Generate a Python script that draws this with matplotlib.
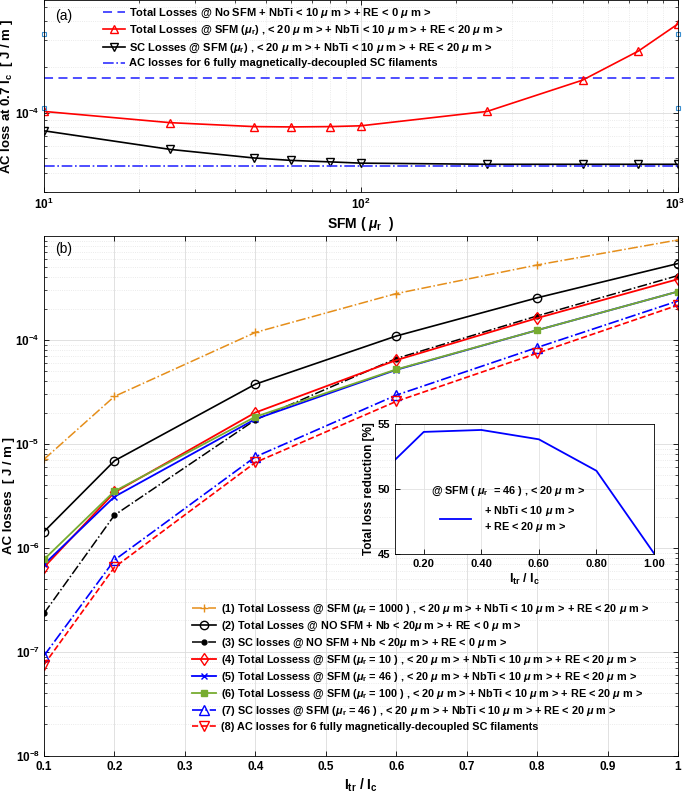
import matplotlib
matplotlib.use('Agg')
import matplotlib.pyplot as plt
import math
from matplotlib.ticker import LogLocator, FuncFormatter, NullFormatter, FixedLocator, FormatStrFormatter
from matplotlib.transforms import ScaledTranslation

plt.rcParams.update({
    'font.family': ['Liberation Sans', 'DejaVu Sans'],
    'font.weight': 'bold',
    'axes.labelweight': 'bold',
    'mathtext.fontset': 'custom',
    'mathtext.rm': 'Liberation Sans:bold',
    'mathtext.it': 'Liberation Sans:italic:bold',
    'mathtext.bf': 'Liberation Sans:bold',
    'mathtext.default': 'rm',
    'xtick.direction': 'in', 'ytick.direction': 'in',
    'xtick.top': True, 'ytick.right': True,
    'axes.linewidth': 0.6,
    'xtick.major.width': 0.6, 'ytick.major.width': 0.6,
    'xtick.minor.width': 0.5, 'ytick.minor.width': 0.5,
})

# ---------------- Panel (a) data ----------------
mu_r = [10, 25, 46, 60, 80, 100, 250, 500, 750, 1000]
total_sfm = [1.02e-4, 8.6e-5, 8.1e-5, 8.06e-5, 8.1e-5, 8.2e-5, 1.02e-4, 1.64e-4, 2.55e-4, 3.85e-4]
sc_sfm = [7.6e-5, 5.73e-5, 5.03e-5, 4.85e-5, 4.74e-5, 4.65e-5, 4.57e-5, 4.57e-5, 4.57e-5, 4.57e-5]
total_no_sfm = 1.69e-4
decoupled = 4.43e-5
edge_mu = [10, 10, 1000, 1000]
edge_val = [3.33e-4, 1.08e-4, 3.33e-4, 1.08e-4]

# ---------------- Panel (b) data ----------------
itr = [0.1, 0.2, 0.4, 0.6, 0.8, 1.0]
s1 = [7.1e-6, 2.86e-5, 1.18e-4, 2.79e-4, 5.26e-4, 9.16e-4]
s2 = [1.43e-6, 6.87e-6, 3.75e-5, 1.09e-4, 2.54e-4, 5.43e-4]
s3 = [2.34e-7, 2.06e-6, 1.7e-5, 6.62e-5, 1.70e-4, 4.16e-4]
s4 = [6.49e-7, 3.41e-6, 2.0e-5, 6.38e-5, 1.62e-4, 3.84e-4]
s5 = [6.92e-7, 3.1e-6, 1.73e-5, 5.15e-5, 1.24e-4, 2.92e-4]
s6 = [7.73e-7, 3.5e-6, 1.82e-5, 5.2e-5, 1.24e-4, 2.92e-4]
s7 = [9.15e-8, 7.62e-7, 7.5e-6, 2.94e-5, 8.45e-5, 2.37e-4]
s8 = [7.5e-8, 6.49e-7, 6.62e-6, 2.56e-5, 7.45e-5, 2.16e-4]
b_yticks = [1e-8, 1e-7, 1e-6, 1e-5, 1e-4]
b_xticks = [0.1, 0.2, 0.3, 0.4, 0.5, 0.6, 0.7, 0.8, 0.9, 1.0]

inset_x = [0.1, 0.2, 0.4, 0.6, 0.8, 1.0]
inset_y = [52.24, 54.39, 54.54, 53.82, 51.4, 45.05]
inset_xticks = [0.2, 0.4, 0.6, 0.8, 1.0]
inset_yticks = [45, 50, 55]

M = r'$\mathit{\mu}$'
mu_txt = r'$\mathit{\mu}_r$'

fig = plt.figure(figsize=(6.85, 7.98), dpi=100)

def style_grid(ax):
    ax.grid(True, which='major', color='#dcdcdc', linewidth=0.6, linestyle='-')
    ax.grid(True, which='minor', color='#e4e4e4', linewidth=0.6, linestyle=':')
    ax.set_axisbelow(True)

def logfmt(v, pos):
    e = int(round(math.log10(v)))
    return r'$10^{%d}$' % e

# ---------------- Panel (a) ----------------
ax1 = fig.add_axes([0.0642, 0.7594, 0.9255, 0.2400])
ax1.set_xscale('log'); ax1.set_yscale('log')
ax1.plot([10, 1000], [total_no_sfm, total_no_sfm], color='#4040FF', linestyle=(0, (5, 3)), lw=1.3,
         label='Total Losses @ No SFM + NbTi < 10 ' + M + ' m > + RE < 0 ' + M + ' m >')
ax1.plot(mu_r, total_sfm, color='red', marker='^', mfc='none', ms=6, lw=1.2,
         label='Total Losses @ SFM (' + mu_txt + ') , < 20 ' + M + ' m > + NbTi < 10 ' + M + ' m > + RE < 20 ' + M + ' m >')
ax1.plot(mu_r, sc_sfm, color='black', marker='v', mfc='none', ms=6, lw=1.2,
         label='SC Losses @ SFM (' + mu_txt + ') , < 20 ' + M + ' m > + NbTi < 10 ' + M + ' m > + RE < 20 ' + M + ' m >')
ax1.plot([10, 1000], [decoupled, decoupled], color='#3030FF', linestyle='-.', lw=1.2,
         label='AC losses for 6 fully magnetically-decoupled SC filaments')
ax1.plot(edge_mu, edge_val, linestyle='none', marker='s', ms=2.5, mfc='none', mec='#3a8fd0', mew=0.8, clip_on=False)
ax1.set_xlim(10, 1000)
ax1.set_ylim(3.0e-5, 5.5e-4)
ax1.yaxis.set_major_locator(LogLocator(base=10, numticks=10))
ax1.yaxis.set_major_formatter(FuncFormatter(logfmt))
ax1.yaxis.set_minor_formatter(NullFormatter())
ax1.xaxis.set_major_formatter(FuncFormatter(logfmt))
ax1.tick_params(labelsize=8.5)
ax1.tick_params(axis='y', pad=3)
style_grid(ax1)
ax1.set_xlabel('SFM ( ' + mu_txt + '  )', fontsize=10, labelpad=2)
ax1.set_ylabel(r'AC loss at 0.7 I$_c$  [ J / m ]', fontsize=9.5)
ax1.yaxis.set_label_coords(-0.046, 0.5)
ax1.text(0.018, 0.92, '(a)', transform=ax1.transAxes, fontsize=10, fontweight='normal', va='center')
ax1.legend(loc='upper left', bbox_to_anchor=(0.082, 1.0), frameon=False, fontsize=8.0,
           handlelength=2.0, labelspacing=0.35, borderaxespad=0.2, handletextpad=0.35)

# ---------------- Panel (b) ----------------
ax2 = fig.add_axes([0.0642, 0.0530, 0.9255, 0.6513])
ax2.set_yscale('log')
ax2.plot(itr, s1, color='#E58E1A', linestyle='-.', marker='+', ms=6, lw=1.1,
         label='(1) Total Lossess @ SFM (' + mu_txt + ' = 1000 ) , < 20 ' + M + ' m > + NbTi < 10 ' + M + ' m > + RE < 20 ' + M + ' m >')
ax2.plot(itr, s2, color='black', linestyle='-', marker='o', mfc='none', ms=6, lw=1.2,
         label='(2) Total Losses @ NO SFM + Nb < 20' + M + ' m > + RE < 0 ' + M + ' m >')
ax2.plot(itr, s3, color='black', linestyle='-.', marker='.', ms=7, lw=1.1,
         label='(3) SC losses @ NO SFM + Nb < 20' + M + ' m > + RE < 0 ' + M + ' m >')
ax2.plot(itr, s4, color='red', linestyle='-', marker='d', mfc='none', ms=6, lw=1.3,
         label='(4) Total Lossess @ SFM (' + mu_txt + ' = 10 ) , < 20 ' + M + ' m > + NbTi < 10 ' + M + ' m > + RE < 20 ' + M + ' m >')
ax2.plot(itr, s5, color='blue', linestyle='-', marker='x', ms=4, lw=1.3,
         label='(5) Total Lossess @ SFM (' + mu_txt + ' = 46 ) , < 20 ' + M + ' m > + NbTi < 10 ' + M + ' m > + RE < 20 ' + M + ' m >')
ax2.plot(itr, s6, color='#77AC30', linestyle='-', marker='s', ms=4.5, lw=1.3,
         label='(6) Total Lossess @ SFM (' + mu_txt + ' = 100 ) , < 20 ' + M + ' m > + NbTi < 10 ' + M + ' m > + RE < 20 ' + M + ' m >')
ax2.plot(itr, s7, color='blue', linestyle='-.', marker='^', mfc='none', ms=6.5, lw=1.2,
         label='(7) SC losses @ SFM (' + mu_txt + ' = 46 ) , < 20 ' + M + ' m > + NbTi < 10 ' + M + ' m > + RE < 20 ' + M + ' m >')
ax2.plot(itr, s8, color='red', linestyle='--', marker='v', mfc='none', ms=6.5, lw=1.2,
         label='(8) AC losses for 6 fully magnetically-decoupled SC filaments')
ax2.set_xlim(0.1, 1.0)
ax2.set_ylim(1e-8, 1e-3)
ax2.set_xticks(b_xticks)
ax2.xaxis.set_major_formatter(FuncFormatter(lambda v, p: ('%g' % round(v, 2))))
ax2.yaxis.set_major_locator(FixedLocator(b_yticks))
ax2.yaxis.set_major_formatter(FuncFormatter(logfmt))
ax2.yaxis.set_minor_locator(LogLocator(base=10, subs=range(2, 10), numticks=12))
ax2.yaxis.set_minor_formatter(NullFormatter())
ax2.tick_params(labelsize=8.5)
ax2.tick_params(axis='y', pad=3)
style_grid(ax2)
ax2.set_xlabel(r'I$_{tr}$ / I$_c$', fontsize=10, labelpad=3)
ax2.set_ylabel('AC losses  [ J / m ]', fontsize=9.5)
ax2.yaxis.set_label_coords(-0.046, 0.5)
ax2.text(0.018, 0.975, '(b)', transform=ax2.transAxes, fontsize=10, fontweight='normal', va='center')
ax2.legend(loc='upper left', bbox_to_anchor=(0.274, 0.2506), bbox_transform=fig.transFigure,
           frameon=False, fontsize=7.8, handlelength=2.2, labelspacing=0.36,
           borderaxespad=0.0, handletextpad=0.5)

# ---------------- Inset ----------------
ax3 = fig.add_axes([0.5766, 0.3058, 0.3781, 0.1629])
ax3.plot(inset_x, inset_y, color='blue', lw=1.3,
         label='+ NbTi < 10 ' + M + ' m >\n+ RE < 20 ' + M + ' m >')
ax3.set_xlim(0.1, 1.0)
ax3.set_ylim(45, 55)
ax3.set_xticks(inset_xticks)
ax3.xaxis.set_major_formatter(FormatStrFormatter('%.2f'))
ax3.set_yticks(inset_yticks)
ax3.tick_params(labelsize=8, top=False, right=False)
ax3.grid(True, color='#e2e2e2', lw=0.6)
ax3.set_xlabel(r'I$_{tr}$ / I$_c$', fontsize=9, labelpad=2)
ax3.set_ylabel('Total loss reduction [%]', fontsize=8.5, labelpad=2)
leg = ax3.legend(loc='lower left', bbox_to_anchor=(0.1, 0.08), frameon=False, fontsize=7.8,
                 title='@ SFM ( ' + mu_txt + '  = 46 ) , < 20 ' + M + ' m >',
                 title_fontsize=7.8, handlelength=2.8, handletextpad=1.2)
leg.get_title().set_fontweight('bold')

# keep the last top-panel tick label inside the canvas
fig.canvas.draw()
for t in ax1.xaxis.get_major_ticks():
    if abs(t.get_loc() - 1000) < 1e-6:
        t.label1.set_horizontalalignment('right')
        t.label1.set_transform(t.label1.get_transform() + ScaledTranslation(5 / 72, 0, fig.dpi_scale_trans))

fig.savefig('out.png', dpi=100)
